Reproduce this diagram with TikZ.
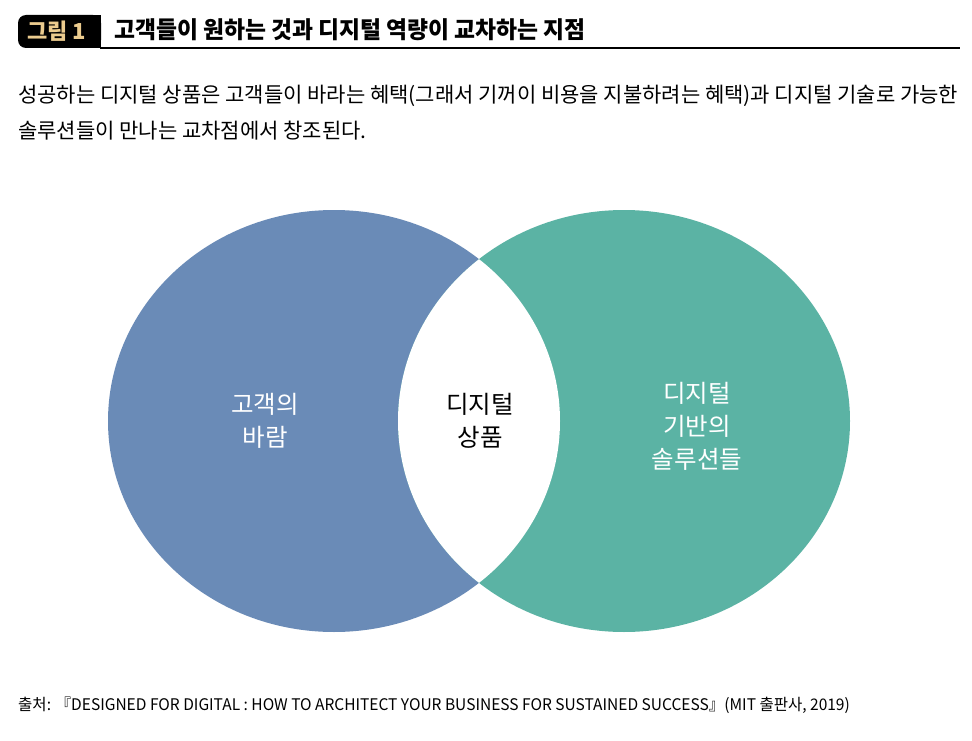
\documentclass[tikz,border=0pt]{standalone}
\usepackage{fontspec}
\setmainfont{Noto Sans CJK KR}
\definecolor{cblue}{HTML}{6A8BB7}
\definecolor{cteal}{HTML}{5BB3A4}
\definecolor{cgold}{HTML}{EBCB8E}
\begin{document}
\begin{tikzpicture}[x=1pt,y=-1pt,
  lbl/.style={align=center,font=\fontsize{24.5}{33}\selectfont},
  txt/.style={anchor=west,inner sep=0pt}]
\useasboundingbox[fill=white] (0,0) rectangle (972,741);
\fill[black,rounded corners=8pt] (18,15) rectangle (101,48);
\fill[black] (60,15) rectangle (101,48);
\node[txt,text=cgold,font=\fontsize{22}{22}\selectfont\bfseries] (tag) at (27,31) {그림 1};
\node[txt,font=\fontsize{23.5}{23.5}\selectfont\bfseries,xscale=0.97] (title) at (114,30) {고객들이 원하는 것과 디지털 역량이 교차하는 지점};
\draw[line width=1.5pt] (100,48) -- (960,48);
\node[txt,font=\fontsize{21}{21}\selectfont] (d1) at (18,96) {성공하는 디지털 상품은 고객들이 바라는 혜택(그래서 기꺼이 비용을 지불하려는 혜택)과 디지털 기술로 가능한};
\node[txt,font=\fontsize{21}{21}\selectfont] (d2) at (18,131) {솔루션들이 만나는 교차점에서 창조된다.};
\fill[cblue] (334,421) ellipse [x radius=226,y radius=211];
\fill[cteal] (624,421) ellipse [x radius=226,y radius=211];
\begin{scope}
\clip (334,421) ellipse [x radius=226,y radius=211];
\fill[white] (624,421) ellipse [x radius=226,y radius=211];
\end{scope}
\node[lbl,text=white] (a) at (265,421) {고객의\\바람};
\node[lbl] (b) at (480,421) {디지털\\상품};
\node[lbl,text=white] (c) at (697,426) {디지털\\기반의\\솔루션들};
\node[txt,font=\fontsize{16}{16}\selectfont,xscale=0.97] (src) at (18,705) {출처: 『DESIGNED FOR DIGITAL : HOW TO ARCHITECT YOUR BUSINESS FOR SUSTAINED SUCCESS』(MIT 출판사, 2019)};
\end{tikzpicture}
\end{document}
